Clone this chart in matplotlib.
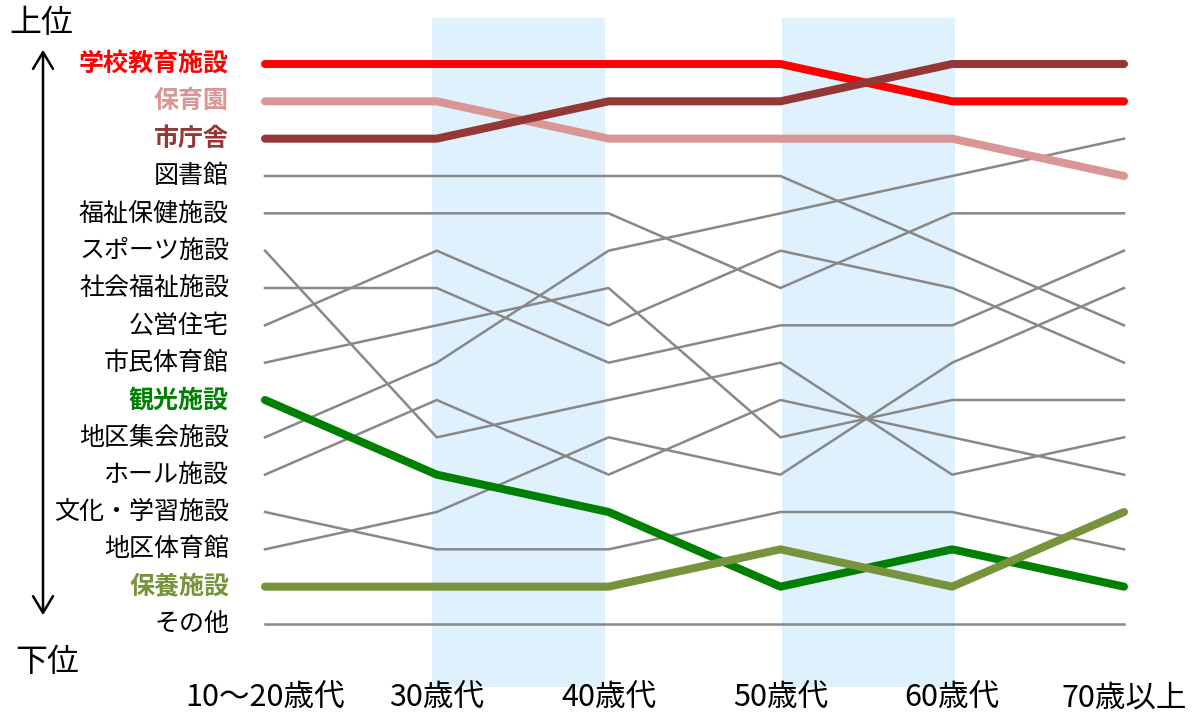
import matplotlib.pyplot as plt
from matplotlib.patches import FancyArrowPatch

plt.rcParams['font.family'] = ['Noto Sans CJK JP', 'DejaVu Sans']

# age groups (x axis)
ages = ['10～20歳代', '30歳代', '40歳代', '50歳代', '60歳代', '70歳以上']

# facilities, in the order of their rank for 10~20
facilities = ['学校教育施設', '保育園', '市庁舎', '図書館', '福祉保健施設', 'スポーツ施設',
              '社会福祉施設', '公営住宅', '市民体育館', '観光施設', '地区集会施設',
              'ホール施設', '文化・学習施設', '地区体育館', '保養施設', 'その他']

# rank of each facility per age group
rank_10_20 = [1, 2, 3, 4, 5, 6, 7, 8, 9, 10, 11, 12, 13, 14, 15, 16]
rank_30 = [1, 2, 3, 4, 5, 11, 7, 6, 8, 12, 9, 10, 14, 13, 15, 16]
rank_40 = [1, 3, 2, 4, 5, 10, 9, 8, 7, 13, 6, 12, 14, 11, 15, 16]
rank_50 = [1, 3, 2, 4, 7, 9, 8, 6, 11, 15, 5, 10, 13, 12, 14, 16]
rank_60 = [2, 3, 1, 6, 5, 12, 8, 7, 10, 14, 4, 11, 13, 9, 15, 16]
rank_70 = [2, 4, 1, 8, 5, 11, 6, 9, 10, 15, 3, 12, 14, 7, 13, 16]

# highlighted facilities and their colours
highlight = {'学校教育施設': '#ff0000', '保育園': '#d99694', '市庁舎': '#953735',
             '観光施設': '#008000', '保養施設': '#77933c'}

ranks = [rank_10_20, rank_30, rank_40, rank_50, rank_60, rank_70]
x = list(range(len(ages)))

fig = plt.figure(figsize=(12.04, 7.18), dpi=100)
ax = fig.add_axes([0, 0, 1, 1])
# map pixels: col0 -> 265px, col5 -> 1124px, rank1 -> 64px, rank16 -> 624px
px = (1124 - 265) / 5
py = (624 - 64) / 15
ax.set_xlim(-265 / px, 5 + (1204 - 1124) / px)
ax.set_ylim(16 + (718 - 624) / py, 1 - 64 / py)
ax.axis('off')

def xp(p):
    return (p - 265) / px

def yp(p):
    return 1 + (p - 64) / py

# shaded bands behind 30s-40s and 50s-60s
for a, b in [(432, 605), (782, 955)]:
    ax.axvspan(xp(a), xp(b), ymin=(718 - 687) / 718, ymax=(718 - 18) / 718,
               color='#dff1fd', lw=0, zorder=0)

for i, name in enumerate(facilities):
    ys = [r[i] for r in ranks]
    if name in highlight:
        ax.plot(x, ys, color=highlight[name], lw=5.8, solid_capstyle='round',
                solid_joinstyle='round', zorder=3)
        ax.text(xp(229), ys[0], name, color=highlight[name], fontsize=18,
                fontweight='bold', ha='right', va='center')
    else:
        ax.plot(x, ys, color='#888888', lw=1.8, zorder=2)
        ax.text(xp(229), ys[0], name, color='black', fontsize=18,
                ha='right', va='center')

for xi, lab in zip(x, ages):
    ax.text(xi, yp(698), lab, fontsize=22, ha='center', va='center')

ax.text(xp(41), yp(23), '上位', fontsize=23, ha='center', va='center')
ax.text(xp(47), yp(662), '下位', fontsize=23, ha='center', va='center')
arrow = FancyArrowPatch((xp(43), yp(47)), (xp(43), yp(618)),
                        arrowstyle='<->,head_length=0.6,head_width=0.36',
                        mutation_scale=20, color='black', lw=1.8)
ax.add_patch(arrow)

fig.savefig('out.png', dpi=100)
